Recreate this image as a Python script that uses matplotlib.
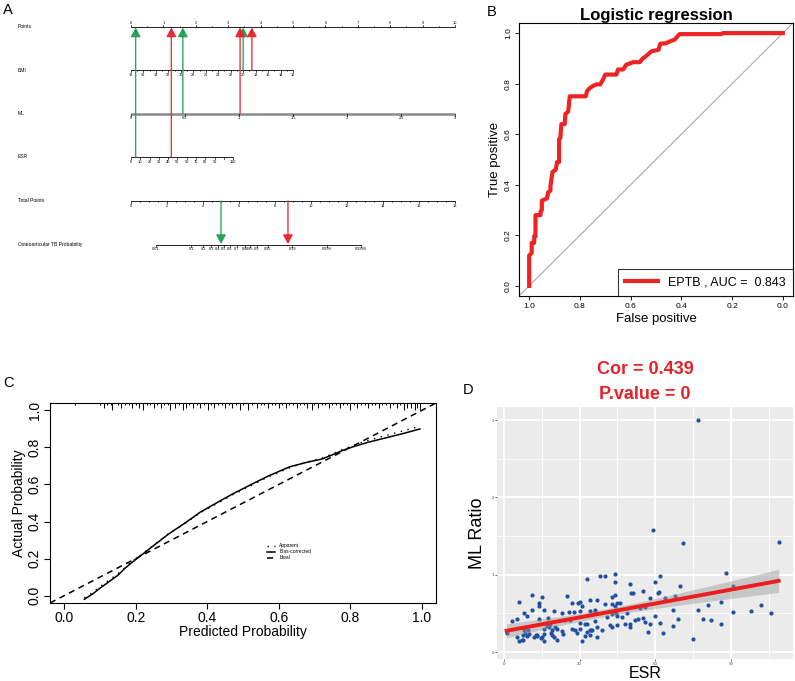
import numpy as np
import matplotlib.pyplot as plt

plt.rcParams['font.family'] = ['Liberation Sans', 'DejaVu Sans']

# ---------------- A: nomogram ----------------
nomo_rows = ['Points', 'BMI', 'ML', 'ESR', 'Total Points', 'Osteoarticular TB Probability']
points_ticks = [0, 1, 2, 3, 4, 5, 6, 7, 8, 9, 10]
bmi_ticks = [38, 36, 34, 32, 30, 28, 26, 24, 22, 20, 18, 16, 14, 12]
ml_ticks = [0, 0.5, 1, 1.5, 2, 2.5, 3]
esr_ticks = [0, 10, 20, 30, 40, 50, 60, 70, 80, 90, 100, 110]
esr_labels = ['0', '10', '20', '30', '40', '50', '60', '70', '80', '90', '', '110']
total_ticks = [0, 2, 4, 6, 8, 10, 12, 14, 16, 18]
prob_ticks = [0.01, 0.1, 0.2, 0.3, 0.4, 0.5, 0.6, 0.7, 0.8, 0.85, 0.9, 0.95, 0.99, 0.999, 0.9999]
# points per unit of each predictor
bmi_pts = 5 / 26          # 38 -> 0 pts, 12 -> 5 pts
ml_pts = 10 / 3
esr_pts = 3.15 / 110
lp_slope, lp_icpt = 1.21, -6.255
# two example patients
pat_colors = ['#1d9e4f', '#e8202a']
pat_bmi = [20, 18.6]
pat_ml = [0.48, 1.01]
pat_esr = [5, 43.5]
pat_total = [5.0, 8.72]

# ---------------- B: ROC ----------------
roc_spec = [1.0, 1.0, 0.99, 0.99, 0.98, 0.98, 0.975, 0.975, 0.955, 0.955, 0.95, 0.95, 0.93, 0.925,
            0.916, 0.916, 0.908, 0.895, 0.89, 0.882, 0.882, 0.877, 0.873, 0.86, 0.857, 0.846, 0.84,
            0.777, 0.772, 0.764, 0.75, 0.735, 0.72, 0.709, 0.70, 0.656, 0.65, 0.63, 0.617, 0.59,
            0.564, 0.554, 0.538, 0.518, 0.49, 0.483, 0.46, 0.446, 0.427, 0.407, 0.243, 0.236, 0.0]
roc_sens = [0.0, 0.12, 0.13, 0.17, 0.17, 0.197, 0.197, 0.28, 0.28, 0.294, 0.30, 0.337, 0.346, 0.37,
            0.377, 0.396, 0.45, 0.46, 0.49, 0.49, 0.58, 0.585, 0.64, 0.64, 0.68, 0.69, 0.75,
            0.75, 0.77, 0.78, 0.79, 0.797, 0.797, 0.816, 0.836, 0.836, 0.856, 0.856, 0.875, 0.885,
            0.885, 0.898, 0.91, 0.928, 0.934, 0.958, 0.96, 0.967, 0.974, 0.996, 0.996, 1.0, 1.0]
roc_label = 'EPTB , AUC =  0.843'

# ---------------- C: calibration ----------------
cal_pred = [0.056, 0.08, 0.10, 0.125, 0.15, 0.17, 0.19, 0.22, 0.25, 0.29, 0.34, 0.38, 0.43,
            0.47, 0.52, 0.57, 0.63, 0.675, 0.72, 0.75, 0.78, 0.81, 0.85, 0.90, 0.95, 0.995]
cal_bias = [-0.02, 0.01, 0.04, 0.075, 0.11, 0.148, 0.18, 0.225, 0.27, 0.33, 0.395, 0.45, 0.505,
            0.548, 0.597, 0.645, 0.695, 0.718, 0.737, 0.76, 0.785, 0.805, 0.828, 0.852, 0.876, 0.90]
cal_app = [-0.012, 0.018, 0.048, 0.083, 0.118, 0.152, 0.185, 0.228, 0.272, 0.332, 0.392, 0.447,
           0.50, 0.543, 0.592, 0.64, 0.69, 0.72, 0.742, 0.765, 0.79, 0.812, 0.838, 0.865, 0.89, 0.915]
rug_x = [0.03, 0.10, 0.11, 0.12, 0.13, 0.134, 0.15, 0.16, 0.17, 0.18, 0.19, 0.20, 0.21, 0.22,
         0.23, 0.24, 0.25, 0.26, 0.27, 0.28, 0.29, 0.295, 0.31, 0.32, 0.331, 0.34, 0.35, 0.36,
         0.37, 0.38, 0.39, 0.403, 0.41, 0.42, 0.43, 0.44, 0.45, 0.46, 0.47, 0.48, 0.492, 0.50,
         0.515, 0.525, 0.54, 0.55, 0.56, 0.57, 0.58, 0.59, 0.60, 0.61, 0.62, 0.63, 0.64, 0.65,
         0.66, 0.67, 0.68, 0.694, 0.70, 0.71, 0.72, 0.73, 0.74, 0.75, 0.76, 0.77, 0.78, 0.79,
         0.80, 0.81, 0.82, 0.83, 0.84, 0.85, 0.86, 0.87, 0.88, 0.89, 0.90, 0.91, 0.92, 0.93,
         0.94, 0.951, 0.96, 0.97, 0.98, 0.987, 0.994]
rug_h = [1, 1, 2, 1, 1, 3, 1, 2, 1, 1, 2, 1, 2, 3, 1, 1, 2, 1, 2, 1, 1, 3, 2, 1, 3, 2, 1, 2,
         1, 2, 1, 3, 1, 2, 1, 1, 2, 1, 2, 1, 3, 1, 3, 1, 2, 1, 1, 2, 1, 1, 2, 1, 2, 1, 1, 2,
         1, 1, 2, 3, 1, 2, 1, 1, 2, 1, 1, 2, 1, 1, 3, 1, 2, 1, 1, 2, 1, 1, 2, 1, 1, 2, 1, 2,
         1, 3, 2, 2, 3, 2, 3]

# ---------------- D: ESR vs ML ratio ----------------
esr = [1, 3, 5, 5, 6, 6, 7, 7.7, 8, 7.4, 8.3, 9, 9.7, 10, 11, 11, 12, 12.7, 13.2, 14, 14, 14.5,
       14, 15, 16, 16, 16, 16, 17, 17.6, 17.8, 18.3, 18.5, 19, 19.7, 20, 20.2, 21, 23, 23, 23.3,
       25, 25.6, 26, 27, 27, 27.8, 29, 29.3, 30, 30, 30, 30, 31, 31, 32, 33, 33, 33, 34, 34, 34,
       34, 34.5, 36, 36, 37, 37, 37, 38, 39, 40, 40, 42, 43, 43, 43, 44, 44, 44, 44, 44.5, 45,
       45, 46, 49, 50, 50, 50.5, 51, 53, 55, 54, 56, 57, 58, 58, 59, 60, 61, 61.5, 62, 62, 63,
       64, 67, 67, 68, 69, 70, 71, 75, 77, 79, 81, 82, 86, 86, 88, 91, 91, 98, 102, 106, 109,
       77, 8, 9, 13, 15, 19, 21, 24, 28, 32, 35, 36, 41, 43, 45, 47, 52, 55, 48, 50, 56, 60]
ml = [0.24, 0.40, 0.43, 0.20, 0.65, 0.14, 0.15, 0.15, 0.50, 0.22, 0.25, 0.46, 0.29, 0.23, 0.74,
      0.54, 0.19, 0.22, 0.22, 0.64, 0.60, 0.18, 0.43, 0.71, 0.55, 0.30, 0.23, 0.14, 0.34, 0.44,
      0.32, 0.36, 0.25, 0.22, 0.19, 0.53, 0.32, 0.16, 0.50, 0.27, 0.23, 0.73, 0.52, 0.42, 0.63,
      0.30, 0.52, 0.25, 0.63, 0.65, 0.53, 0.38, 0.30, 0.60, 0.14, 0.21, 0.95, 0.36, 0.26, 0.67,
      0.53, 0.29, 0.22, 0.28, 0.55, 0.40, 0.67, 0.32, 0.19, 0.99, 0.28, 0.98, 0.62, 0.35, 0.71,
      0.49, 0.33, 1.01, 0.91, 0.74, 0.60, 0.50, 0.35, 0.64, 0.64, 0.50, 0.36, 0.88, 0.77, 0.77,
      0.43, 0.79, 0.57, 0.39, 0.26, 0.36, 0.70, 1.58, 0.90, 0.77, 0.78, 0.99, 0.38, 0.25, 0.70,
      0.55, 0.34, 0.73, 0.43, 0.86, 1.41, 0.17, 3.0, 0.43, 0.61, 0.41, 0.36, 0.65, 1.02, 0.86,
      0.52, 0.53, 0.61, 0.50, 1.42, 0.54, 0.28, 0.21, 0.21, 0.19, 0.28, 0.30, 0.42, 0.28, 0.36,
      0.28, 0.52, 0.45, 0.62, 0.47, 0.45, 0.42, 0.44, 0.36, 0.33, 0.58, 0.47]
cor_text = ['Cor = 0.439', 'P.value = 0']

W, H = 795, 681
fig = plt.figure(figsize=(W / 100, H / 100), dpi=100)


def frac(x0, y0, x1, y1):
    return [x0 / W, 1 - y1 / H, (x1 - x0) / W, (y1 - y0) / H]


# ---- panel A ----
axA = fig.add_axes([0, 0, 1, 1], zorder=0)
axA.set_xlim(0, W)
axA.set_ylim(H, 0)
axA.axis('off')
x0, px_pt, px_tot = 131, 32.4, 18.0
row_y = [27, 70, 113.5, 157, 201, 244.5]
for lab, y in zip(nomo_rows, row_y):
    axA.text(18, y, lab, fontsize=3.6, va='center', ha='left')


def scale(ax, y, xs, labels, color='black', lw=0.6, up=False, minor=None):
    ax.plot([min(xs), max(xs)], [y, y], color=color, lw=lw, solid_capstyle='butt')
    d = -2.2 if up else 2.2
    for x, l in zip(xs, labels):
        ax.plot([x, x], [y, y + d], color='black', lw=0.5)
        ax.text(x, y + (-4.5 if up else 4.8), l, fontsize=2.8, ha='center', va='center')
    if minor is not None:
        for x in minor:
            ax.plot([x, x], [y, y + d * 0.6], color='black', lw=0.4)


pts_minor = [x0 + px_pt * (p + 0.5) for p in points_ticks[:-1]]
scale(axA, row_y[0], [x0 + px_pt * p for p in points_ticks], [str(p) for p in points_ticks],
      up=True, minor=pts_minor)
scale(axA, row_y[1], [x0 + px_pt * (38 - b) * bmi_pts for b in bmi_ticks], [str(b) for b in bmi_ticks],
      minor=[x0 + px_pt * (38 - b + 1) * bmi_pts for b in bmi_ticks[:-1]])
scale(axA, row_y[2], [x0 + px_pt * m * ml_pts for m in ml_ticks],
      ['0', '0.5', '1', '1.5', '2', '2.5', '3'], color='#8a8a8a', lw=1.8)
scale(axA, row_y[3], [x0 + px_pt * e * esr_pts for e in esr_ticks], esr_labels)
scale(axA, row_y[4], [x0 + px_tot * t for t in total_ticks], [str(t) for t in total_ticks],
      minor=[x0 + px_tot * (t + d) for t in total_ticks[:-1] for d in (0.5, 1, 1.5)])
prob_x = [x0 + px_tot * (np.log(p / (1 - p)) - lp_icpt) / lp_slope for p in prob_ticks]
scale(axA, row_y[5], prob_x, [str(p) for p in prob_ticks])

for c, b, m, e, t in zip(pat_colors, pat_bmi, pat_ml, pat_esr, pat_total):
    for val, yy in [((38 - b) * bmi_pts, row_y[1]), (m * ml_pts, row_y[2]), (e * esr_pts, row_y[3])]:
        xx = x0 + px_pt * val
        axA.annotate('', xy=(xx, row_y[0] + 0.5), xytext=(xx, yy),
                     arrowprops=dict(arrowstyle='-|>,head_length=0.55,head_width=0.3', color=c,
                                     lw=1.0, shrinkA=0, shrinkB=0, alpha=0.9))
    xx = x0 + px_tot * t
    axA.annotate('', xy=(xx, row_y[5] - 0.5), xytext=(xx, row_y[4]),
                 arrowprops=dict(arrowstyle='-|>,head_length=0.55,head_width=0.3', color=c,
                                 lw=1.0, shrinkA=0, shrinkB=0, alpha=0.9))

# panel letters
for letter, (lx, ly) in zip('ABCD', [(3, 10), (487, 12), (3, 383), (463, 390)]):
    axA.text(lx, ly, letter, fontsize=10.5, ha='left', va='center')

# ---- panel B ----
axB = fig.add_axes(frac(519, 23, 793, 296))
axB.plot([1.04, -0.04], [-0.04, 1.04], color='#a8a8a8', lw=0.8)
axB.plot(roc_spec, roc_sens, color='#ee2424', lw=3, label=roc_label)
axB.set_xlim(1.04, -0.04)
axB.set_ylim(-0.04, 1.04)
tk = [0, 0.2, 0.4, 0.6, 0.8, 1.0]
axB.set_xticks(tk)
axB.set_xticklabels([f'{v:.1f}' for v in tk], fontsize=6)
axB.set_yticks(tk)
axB.set_yticklabels([f'{v:.1f}' for v in tk], fontsize=6, rotation=90, va='center')
axB.tick_params(length=3, width=0.6, pad=2)
axB.set_xlabel('False positive', fontsize=9.5, labelpad=2)
axB.set_ylabel('True positive', fontsize=9.5, labelpad=3)
axB.set_title('Logistic regression', fontsize=12, fontweight='bold', pad=2)
for s in axB.spines.values():
    s.set_linewidth(0.8)
lg = axB.legend(loc='lower right', fontsize=9, frameon=True, fancybox=False, edgecolor='black',
                borderaxespad=0, handlelength=2.6, borderpad=0.6)
lg.get_frame().set_linewidth(0.8)

# ---- panel C ----
axC = fig.add_axes(frac(50, 403, 436, 603))
axC.plot([-0.04, 1.04], [-0.04, 1.04], color='black', lw=1.1, ls=(0, (4, 3)), label='Ideal')
axC.plot(cal_pred, cal_app, color='black', lw=1.0, ls=(0, (1, 4)), label='Apparent')
axC.plot(cal_pred, cal_bias, color='black', lw=1.1, label='Bias-corrected')
axC.vlines(rug_x, [1.04 - 0.013 * h for h in rug_h], 1.04, color='black', lw=0.7)
axC.set_xlim(-0.04, 1.04)
axC.set_ylim(-0.04, 1.04)
axC.set_xticks(tk)
axC.set_xticklabels([f'{v:.1f}' for v in tk], fontsize=10)
axC.set_yticks(tk)
axC.set_yticklabels([f'{v:.1f}' for v in tk], fontsize=10, rotation=90, va='center')
axC.tick_params(length=4, width=0.8, pad=2)
axC.set_xlabel('Predicted Probability', fontsize=10, labelpad=0)
axC.set_ylabel('Actual Probability', fontsize=10, labelpad=1)
for s in axC.spines.values():
    s.set_linewidth(0.8)
h, l = axC.get_legend_handles_labels()
axC.legend([h[1], h[2], h[0]], [l[1], l[2], l[0]], loc='upper left', bbox_to_anchor=(0.55, 0.32),
           frameon=False, fontsize=3.5, handlelength=1.8, handletextpad=0.8, labelspacing=0.2)

# ---- panel D ----
axD = fig.add_axes(frac(497, 407, 793, 659))
axD.set_facecolor('#ebebeb')
ex = np.array(esr, dtype=float)
my = np.array(ml, dtype=float)
b1, b0 = np.polyfit(ex, my, 1)
gx = np.linspace(ex.min(), ex.max(), 80)
gy = b0 + b1 * gx
res = my - (b0 + b1 * ex)
s = np.sqrt(np.sum(res ** 2) / (len(ex) - 2))
se = s * np.sqrt(1 / len(ex) + (gx - ex.mean()) ** 2 / np.sum((ex - ex.mean()) ** 2))
axD.set_xlim(-2.8, 114.7)
axD.set_ylim(-0.09, 3.17)
axD.set_xticks([0, 30, 60, 90])
axD.set_xticks([15, 45, 75, 105], minor=True)
axD.set_yticks([0, 1, 2, 3])
axD.set_yticks([0.5, 1.5, 2.5], minor=True)
axD.grid(which='major', color='white', lw=1.3)
axD.grid(which='minor', color='white', lw=0.6)
axD.set_axisbelow(True)
axD.scatter(ex, my, s=9, color='#2350a0', linewidths=0, zorder=3)
axD.fill_between(gx, gy - 1.97 * se, gy + 1.97 * se, color='#9a9a9a', alpha=0.45, lw=0, zorder=4)
axD.plot(gx, gy, color='#ee1c1c', lw=2.8, zorder=5)
for sp in axD.spines.values():
    sp.set_visible(False)
axD.tick_params(which='major', labelsize=3.2, labelcolor='#4d4d4d', color='#333333', length=1.5, width=0.5, pad=0.5)
axD.tick_params(which='minor', length=0)
axD.set_xlabel('ESR', fontsize=11.5, va='baseline')
axD.xaxis.set_label_coords(0.5, -0.075)
axD.set_ylabel('ML Ratio', fontsize=13, labelpad=4)
axD.set_title(cor_text[0] + '\n' + cor_text[1], fontsize=13, fontweight='bold', color='#e8202a',
              linespacing=1.6, pad=6)

fig.savefig('out.png', dpi=100)
